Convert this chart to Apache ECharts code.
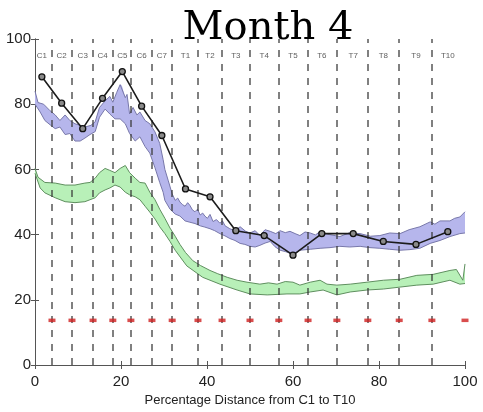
<!DOCTYPE html>
<html>
<head>
<meta charset="utf-8">
<script src="https://cdn.jsdelivr.net/npm/echarts@6/dist/echarts.min.js"></script>
<style>
  html, body { margin: 0; padding: 0; background: #fff; }
  #chart { width: 483px; height: 412px; }
</style>
</head>
<body>
<div id="chart"></div>
<script>
// Vertebral segment names, one per segment along the spine
const segmentNames = ['C1','C2','C3','C4','C5','C6','C7','T1','T2','T3','T4','T5','T6','T7','T8','T9','T10'];
// Segment centres (percentage distance) where the measured values sit
const segmentCentres = [1.6, 6.2, 11.1, 15.7, 20.3, 24.8, 29.5, 35.0, 40.7, 46.7, 53.3, 60.0, 66.7, 74.0, 81.0, 88.6, 96.0];
// Measured values at each segment (black line)
const measured = [88.4, 80.3, 72.5, 81.8, 90.0, 79.4, 70.4, 54.0, 51.6, 41.2, 39.7, 33.7, 40.3, 40.3, 37.9, 37.0, 40.9];
// Segment boundaries (dashed lines)
const boundaries = [3.95, 8.6, 13.5, 18.1, 22.3, 27.2, 31.9, 37.9, 43.5, 50.0, 56.7, 63.5, 70.2, 77.4, 84.7, 92.3];
// Marker positions along the baseline row
const markerPositions = [3.95, 8.6, 13.5, 18.1, 22.3, 27.2, 31.9, 37.9, 43.5, 50.0, 56.7, 63.5, 70.2, 77.4, 84.7, 92.3, 100];
const markerLevel = 13.7;
const labelLevel = 95;

// Upper reference band (blue): upper and lower edges as [x, y]
const blueUpper = [[0,84],[0.7,80.5],[2,80],[3.5,78],[4.7,76.7],[5.8,75],[7,76.7],[8.1,75],[9.3,74],[10.5,73.5],[11.6,73],[13,73.5],[14,74.6],[15,79],[16.3,81],[17.4,82.4],[18.1,80.6],[19,83.6],[19.8,86],[20.2,85.7],[21,82],[21.4,83],[22,77],[22.8,79],[23.7,76.7],[24.4,77.6],[25.6,75],[26.7,74],[27.9,71.5],[29,68],[29.8,63],[30.2,60],[31,56.5],[31.9,52.5],[32.6,50.5],[33.2,51.2],[33.7,50],[34.3,49.2],[34.9,48.7],[35.5,49.8],[36,49],[36.6,47.6],[37.2,47],[37.8,47.8],[38.4,46],[39,46.6],[39.5,45.7],[40.1,45],[40.7,46.2],[41.4,44],[42.2,44.6],[43,43.5],[43.6,44.2],[44.2,42.7],[45.3,41.8],[46.5,41.2],[47.7,42.4],[49,41],[50,40.5],[51.2,41.2],[52.3,39.7],[53.5,41.5],[54.7,41],[56,40.3],[57,41.2],[58.2,40.6],[59.3,41],[60.5,40.3],[61.6,39.7],[62.8,40.8],[64,40.5],[65.2,39.9],[66.3,40.9],[68.5,40],[70.9,39.4],[73,40.5],[75.6,40.3],[78,39.5],[80.2,39.7],[82.5,40.5],[84.9,40.3],[87,41.5],[89.5,42.4],[91.9,43.9],[93,43.2],[94.2,44.2],[96.5,44.2],[97.6,45],[98.8,45.4],[100,47]];
const blueLower = [[0,80],[1.2,77.6],[2.3,75],[3.5,73.7],[4.7,72.5],[5.8,73],[7,70.7],[8.1,71],[9.3,68.7],[10.5,68.7],[11.6,69.6],[12.8,70.7],[14,71.6],[15,76],[16.3,78.5],[17.4,77],[18.6,75.5],[19.8,75.5],[21,74],[22,71],[23.3,68.7],[24.4,70],[25.6,67],[26.7,65],[27.9,60.5],[29,56],[29.8,53],[30.2,50.5],[31.4,47.8],[32.6,46.3],[33.7,45.7],[34.9,44.2],[36,43.8],[37.2,43.4],[38.4,42.7],[39.5,42.3],[40.7,41.8],[41.8,41.2],[43,40.3],[44.2,39.6],[45.3,38.8],[46.5,38.2],[47.7,37.3],[48.8,37],[50,36.4],[51.2,36.2],[52.3,36.7],[53.5,37.4],[54.7,37.9],[55.8,36.3],[57,35.2],[58.2,34.8],[59.3,34.3],[60.5,34.3],[61.6,35.2],[64,35.5],[66.3,35.8],[68.6,36],[70.9,36.4],[73.2,36.2],[75.6,36.4],[77.9,36],[80.2,35.8],[82.5,35.5],[84.9,35.2],[87.2,35.4],[89.5,35.8],[91.9,37.3],[94.2,38.2],[96.5,39.4],[98.8,40.3],[100,40.5]];

// Lower reference band (green): upper and lower edges as [x, y]
const greenUpper = [[0,60.3],[0.7,57.6],[2.3,56],[4.7,55.8],[7,55.2],[9.3,55.2],[11.6,55.8],[12.8,56],[14,57.3],[15,59],[16.3,60.3],[17.4,59.7],[18.6,59],[19.8,60.3],[21,61.2],[22,59],[23.3,57.3],[24.4,56],[25.6,55.8],[26.7,53],[27.9,50.7],[29,47.8],[30.2,45],[31.4,42],[32.6,39.5],[33.7,37],[35,34.5],[36.7,32],[38.5,30.5],[40.7,29],[42.5,28],[44.7,26.9],[47,26],[49.3,25.4],[52.3,24.8],[54.3,25.2],[56.3,24.8],[58.2,25.6],[60,25.4],[61.6,24.5],[64,25.4],[66.3,26],[67.9,24.8],[70.2,24.5],[73.3,24.8],[77.2,25.4],[81,26],[84.9,26.3],[88.8,27.5],[92.6,27.8],[96.5,29],[98,29.3],[99.5,26],[100,31]];
const greenLower = [[0,58.8],[1.2,54.3],[2.3,52.8],[4.7,51.3],[7,50.1],[9.3,49.8],[11.6,50.1],[14,51.3],[15,52.8],[16.3,53.7],[17.4,54.3],[18.6,55.2],[19.8,54.6],[21,53],[22,52.2],[23.3,51.6],[24.4,50.7],[25.6,48.7],[26.7,46.9],[27.9,44.8],[29,42.4],[30.2,40.3],[31.4,37.9],[32.6,35.2],[35.3,30.4],[39,26.9],[43,24.8],[47,23],[50,21.8],[54,21.5],[58.6,21.8],[61.6,21.8],[64,22.4],[67,23],[70.2,21.5],[73.3,22.4],[77.2,23],[81,23.3],[84.9,23.9],[88.8,24.5],[92.6,24.8],[96.5,26],[98.8,24.8],[100,25]];

const xTicks = { min: 0, max: 100, interval: 20 };
const yTicks = { min: 0, max: 100, interval: 20 };

const axisColor = '#555';

function bandSeries(upper, lower, fill, edge) {
  return [
    {
      type: 'custom',
      silent: true,
      z: 1,
      data: [[0, 0]],
      renderItem: function (params, api) {
        const pts = upper.map(p => api.coord(p))
          .concat(lower.slice().reverse().map(p => api.coord(p)));
        return { type: 'polygon', shape: { points: pts }, style: { fill: fill } };
      }
    },
    { type: 'line', data: upper, showSymbol: false, symbol: 'none', z: 2,
      lineStyle: { color: edge, width: 1 } },
    { type: 'line', data: lower, showSymbol: false, symbol: 'none', z: 2,
      lineStyle: { color: edge, width: 1 } }
  ];
}

const chart = echarts.init(document.getElementById('chart'), null, { renderer: 'canvas' });
chart.setOption({
  animation: false,
  backgroundColor: '#fff',
  grid: { left: 35, right: 18, top: 39, bottom: 37 },
  graphic: [{
    type: 'text', x: 268, y: 29, z: 100,
    style: { text: 'Month 4', font: '40px "DejaVu Serif"', fill: '#000', textAlign: 'center', textVerticalAlign: 'middle' }
  }],
  xAxis: [
    { type: 'value', min: xTicks.min, max: xTicks.max, interval: xTicks.interval,
      axisLine: { show: true, lineStyle: { color: axisColor } },
      axisTick: { show: true, inside: true, length: 4, lineStyle: { color: axisColor } },
      axisLabel: { fontSize: 15, color: '#222', margin: 9, fontFamily: 'Liberation Sans' },
      splitLine: { show: false },
      name: 'Percentage Distance from C1 to T10', nameLocation: 'middle', nameGap: 29,
      nameTextStyle: { fontSize: 13, color: '#222', fontFamily: 'Liberation Sans' } },
    { type: 'value', position: 'top', min: xTicks.min, max: xTicks.max, interval: xTicks.interval,
      axisLine: { show: true, lineStyle: { color: axisColor } },
      axisTick: { show: true, inside: true, length: 4, lineStyle: { color: axisColor } },
      axisLabel: { show: false }, splitLine: { show: false } }
  ],
  yAxis: [
    { type: 'value', min: yTicks.min, max: yTicks.max, interval: yTicks.interval,
      axisLine: { show: true, lineStyle: { color: axisColor } },
      axisTick: { show: true, inside: true, length: 4, lineStyle: { color: axisColor } },
      axisLabel: { fontSize: 15, color: '#222', margin: 4, fontFamily: 'Liberation Sans' },
      splitLine: { show: false } },
    { type: 'value', position: 'right', min: yTicks.min, max: yTicks.max, interval: yTicks.interval,
      axisLine: { show: true, lineStyle: { color: axisColor } },
      axisTick: { show: true, inside: true, length: 4, lineStyle: { color: axisColor } },
      axisLabel: { show: false }, splitLine: { show: false } }
  ],
  series: [
    ...bandSeries(blueUpper, blueLower, '#b6b6ec', '#7878aa'),
    ...bandSeries(greenUpper, greenLower, '#b8f0b8', '#5f8f5f'),
    {
      type: 'line',
      data: boundaries.map(b => [b, markerLevel]),
      symbol: 'none', lineStyle: { width: 0, opacity: 0 }, z: 3,
      markLine: {
        silent: true, symbol: ['none', 'none'], label: { show: false },
        lineStyle: { color: '#3a3a3a', width: 1.5, type: [7, 7], opacity: 0.85 },
        data: boundaries.map(b => ({ xAxis: b }))
      }
    },
    {
      type: 'line',
      data: segmentCentres.map((x, i) => [x, measured[i]]),
      z: 5,
      symbol: 'circle', symbolSize: 6, showSymbol: true,
      lineStyle: { color: '#1c1c1c', width: 1.6 },
      itemStyle: { color: '#8a8a8a', borderColor: '#111', borderWidth: 1.3 }
    },
    {
      type: 'scatter',
      data: markerPositions.map(x => [x, markerLevel]),
      symbol: 'rect', symbolSize: [7, 3.5], z: 6,
      itemStyle: { color: '#d02020' }
    },
    {
      type: 'scatter',
      data: segmentCentres.map((x, i) => ({ value: [x, labelLevel], name: segmentNames[i] })),
      symbolSize: 1, z: 6,
      itemStyle: { color: 'transparent' },
      label: { show: true, position: 'inside', formatter: '{b}', fontSize: 8, color: '#333',
        fontFamily: 'Liberation Sans' }
    }
  ]
});
</script>
</body>
</html>
